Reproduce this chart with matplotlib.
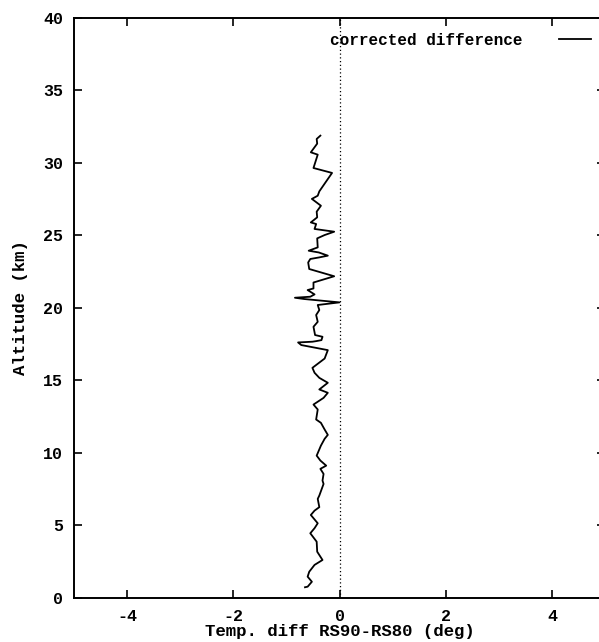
import matplotlib
matplotlib.use("Agg")
import matplotlib.pyplot as plt

# Temperature difference (deg) vs altitude (km), traced top to bottom
temp_diff = [-0.36, -0.43, -0.42, -0.54, -0.41, -0.49, -0.14, -0.25, -0.38, -0.41, -0.52, -0.35,
             -0.43, -0.42, -0.54, -0.44, -0.47, -0.10, -0.28, -0.42, -0.41, -0.58, -0.39, -0.22,
             -0.38, -0.55, -0.59, -0.57, -0.10, -0.49,
             -0.49, -0.60, -0.47, -0.55, -0.84, -0.66, 0.00, -0.41, -0.38, -0.44, -0.41, -0.49,
             -0.46, -0.32, -0.34, -0.44, -0.51, -0.78, -0.72, -0.22, -0.28,
             -0.51, -0.47, -0.38, -0.22, -0.38, -0.22, -0.30, -0.49, -0.41, -0.44, -0.35, -0.28, -0.22,
             -0.28, -0.35, -0.43, -0.36, -0.25, -0.36, -0.30, -0.32, -0.30, -0.38, -0.41, -0.38, -0.47,
             -0.54, -0.41, -0.47, -0.55, -0.43, -0.42, -0.32, -0.47, -0.57, -0.60, -0.52, -0.60, -0.65]
altitude = [31.86, 31.63, 31.31, 30.71, 30.55, 29.63, 29.29, 28.71, 28.02, 27.72, 27.50, 27.03,
            26.62, 26.23, 25.88, 25.77, 25.43, 25.24, 25.01, 24.78, 24.16, 23.93, 23.81, 23.59,
            23.47, 23.36, 23.12, 22.67, 22.17, 21.74,
            21.33, 21.22, 20.92, 20.76, 20.69, 20.60, 20.37, 20.19, 19.84, 19.50, 19.03, 18.69,
            18.12, 18.00, 17.77, 17.70, 17.66, 17.61, 17.43, 17.08, 16.50,
            15.86, 15.52, 15.17, 14.83, 14.37, 14.14, 13.79, 13.33, 12.99, 12.30, 12.07, 11.61, 11.24,
            10.97, 10.50, 9.81, 9.47, 9.12, 8.90, 8.55, 8.09, 7.86, 7.06, 6.83, 6.26, 6.02,
            5.72, 5.15, 4.81, 4.46, 3.88, 3.19, 2.62, 2.28, 1.81, 1.47, 1.12, 0.78, 0.74]

x_ticks = [-4, -2, 0, 2, 4]
y_ticks = [0, 5, 10, 15, 20, 25, 30, 35, 40]
x_label = "Temp. diff RS90-RS80 (deg)"
y_label = "Altitude (km)"
legend_label = "corrected difference"

font = "Liberation Mono"
plt.rcParams['font.family'] = [font, 'DejaVu Sans Mono']

fig = plt.figure(figsize=(5.99, 6.42), dpi=100)
ax = fig.add_axes([74 / 599, 44 / 642, (605 - 74) / 599, (598 - 17.5) / 642])

ax.axvline(0, color='black', linestyle=(0, (1, 2)), linewidth=0.9)
ax.plot(temp_diff, altitude, color='black', linewidth=1.3, label=legend_label)

ax.set_xlim(-5, 5)
ax.set_ylim(0, 40)
ax.set_xticks(x_ticks)
ax.set_yticks(y_ticks)
ax.set_xticklabels(['-4' if t == -4 else ('-2' if t == -2 else str(t)) for t in x_ticks])
ax.tick_params(direction='in', length=6, width=1.2, top=True, right=True,
               labelsize=12, pad=8)
for lbl in ax.get_xticklabels() + ax.get_yticklabels():
    lbl.set_fontweight('bold')
for s in ax.spines.values():
    s.set_linewidth(1.4)

ax.set_xlabel(x_label, fontsize=12.5, fontweight='bold', labelpad=0)
ax.set_ylabel(y_label, fontsize=12.5, fontweight='bold', labelpad=11)

leg = ax.legend(loc='upper right', bbox_to_anchor=(0.995, 0.993), frameon=False,
                markerfirst=False, handlelength=2.0, handletextpad=2.3,
                prop={'family': font, 'size': 11.5, 'weight': 'bold'}, borderaxespad=0.3)

fig.savefig("out.png", dpi=100)
